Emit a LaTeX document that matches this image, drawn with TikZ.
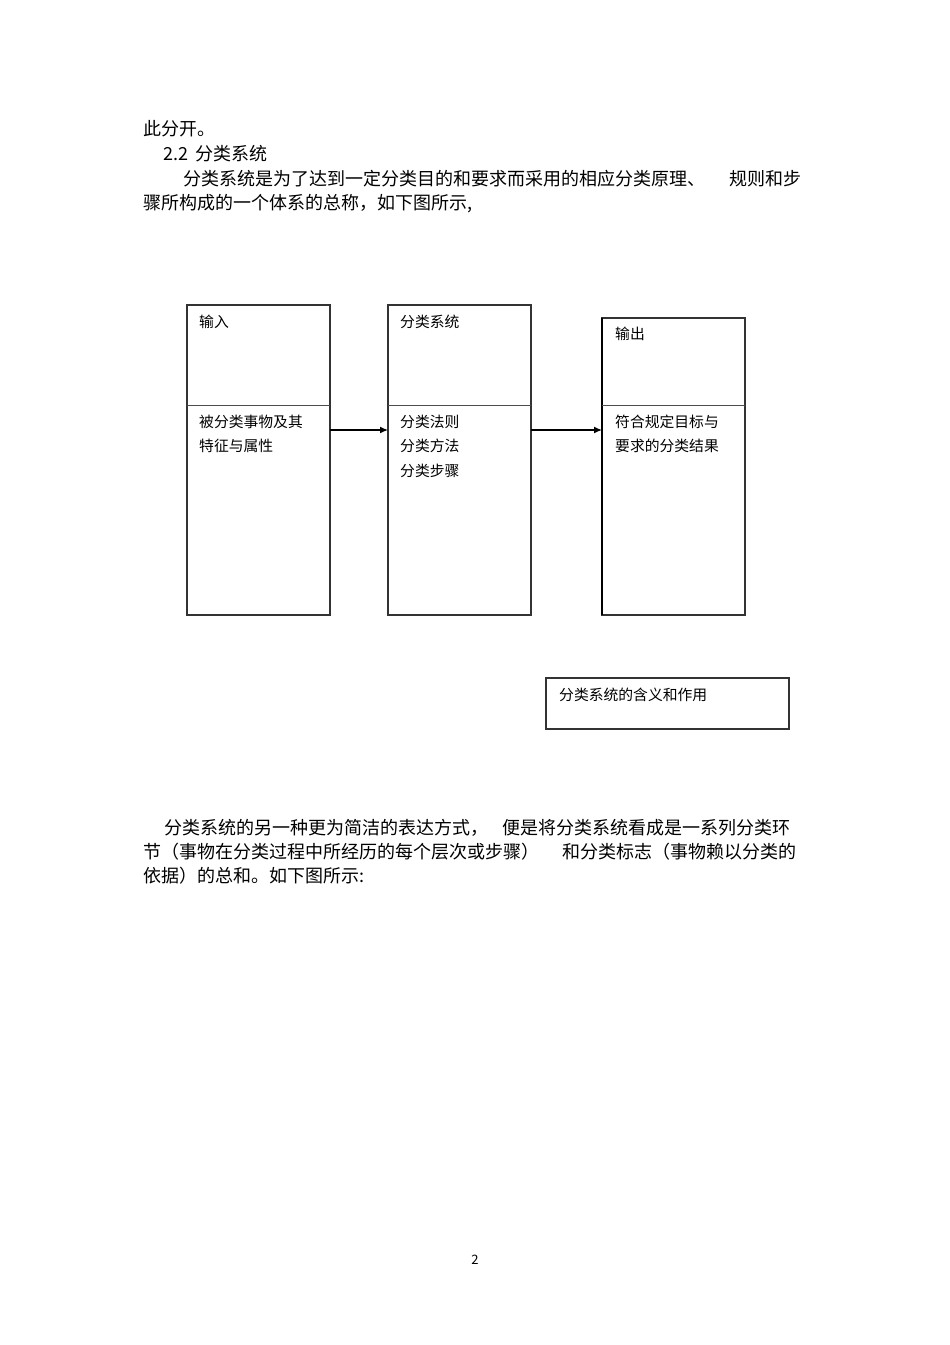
\documentclass[tikz,border=0pt]{standalone}
\usepackage{fontspec}
\setmainfont{Noto Sans CJK SC}
\usetikzlibrary{arrows.meta}
\begin{document}
\begin{tikzpicture}[x=1pt,y=-1pt,
  bodytxt/.style={anchor=west,inner sep=0pt,font=\fontsize{18}{20}\selectfont,text=black},
  boxtxt/.style={anchor=west,inner sep=0pt,font=\fontsize{14.8}{16}\selectfont,text=black},
  colbox/.style={draw=black!80,line width=1.1pt,rectangle,inner sep=0pt,outer sep=0pt,minimum width=143pt,anchor=north west},
  divline/.style={draw=black!70,line width=1pt},
  arr/.style={draw=black,line width=1.3pt,-{Latex[length=8pt,width=7pt]}}]
\useasboundingbox[fill=white] (0,0) rectangle (950,1345);
% top paragraph
\node[bodytxt] (p1) at (143,129) {此分开。};
\node[bodytxt] (p2) at (163,154) {2.2\, 分类系统};
\node[bodytxt] (p3a) at (183,179) {分类系统是为了达到一定分类目的和要求而采用的相应分类原理、};
\node[bodytxt] (p3b) at (729,179) {规则和步};
\node[bodytxt] (p4) at (143,204) {骤所构成的一个体系的总称，如下图所示,};
% boxes
\node[colbox,minimum height=310pt] (b1) at (187,305) {};
\node[colbox,minimum height=310pt] (b2) at (388,305) {};
\node[colbox,minimum height=297pt] (b3) at (602,318) {};
\draw[black,line width=2pt] (b3.north west) -- (b3.south west);
\coordinate (dv) at (0,405);
\coordinate (ar) at (0,430);
\draw[divline] (b1.west |- dv) -- (b1.east |- dv);
\draw[divline] (b2.west |- dv) -- (b2.east |- dv);
\draw[divline] (b3.west |- dv) -- (b3.east |- dv);
\draw[arr] (b1.east |- ar) -- (b2.west |- ar);
\draw[arr] (b2.east |- ar) -- (b3.west |- ar);
% box texts
\node[boxtxt] (t1) at (199,322) {输入};
\node[boxtxt] (t1a) at (199,422) {被分类事物及其};
\node[boxtxt] (t1b) at (199,446) {特征与属性};
\node[boxtxt] (t2) at (400,322) {分类系统};
\node[boxtxt] (t2a) at (400,422) {分类法则};
\node[boxtxt] (t2b) at (400,446) {分类方法};
\node[boxtxt] (t2c) at (400,471) {分类步骤};
\node[boxtxt] (t3) at (615,334) {输出};
\node[boxtxt] (t3a) at (615,422) {符合规定目标与};
\node[boxtxt] (t3b) at (615,446) {要求的分类结果};
% caption box
\node[colbox,minimum width=243pt,minimum height=51pt] (cap) at (546,678) {};
\node[boxtxt] (capt) at (559,695) {分类系统的含义和作用};
% lower paragraph
\node[bodytxt] (q1a) at (164,828) {分类系统的另一种更为简洁的表达方式，};
\node[bodytxt] (q1b) at (502,828) {便是将分类系统看成是一系列分类环};
\node[bodytxt] (q2a) at (143,852) {节（事物在分类过程中所经历的每个层次或步骤）};
\node[bodytxt] (q2b) at (562,852) {和分类标志（事物赖以分类的};
\node[bodytxt] (q3) at (143,876) {依据）的总和。如下图所示:};
% page number
\node[inner sep=0pt,font=\fontsize{13}{14}\selectfont] (pn) at (475,1260) {2};
\end{tikzpicture}
\end{document}
